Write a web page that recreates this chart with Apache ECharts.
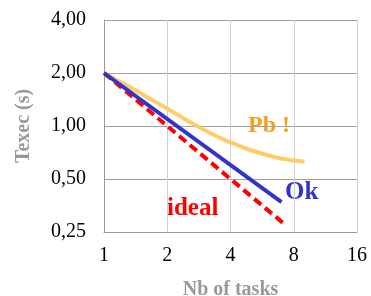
<!DOCTYPE html>
<html lang="en">
<head>
    <meta charset="UTF-8">
    <title>Texec</title>
    <script src="https://cdn.jsdelivr.net/npm/echarts@6/dist/echarts.min.js"></script>
    <style>
        html, body { margin: 0; padding: 0; background: #fff; }
        #main { width: 371px; height: 296px; }
    </style>
</head>
<body>
<div id="main"></div>
<script>
    // data
    var xTicks = [1, 2, 4, 8, 16];
    var yTicks = [0.25, 0.5, 1, 2, 4];
    var pbData = [[1, 2], [1.2, 1.775], [1.5, 1.53], [2, 1.255], [2.5, 1.07], [3, 0.95], [3.5, 0.865],
        [4, 0.806], [5, 0.728], [6, 0.682], [7, 0.653], [8, 0.636], [9, 0.626]];
    var okData = [[1, 2], [7, 0.37]];
    var idealData = [[1, 2], [7.2, 0.278]];

    var serif = '"Liberation Serif", "DejaVu Serif", serif';

    function fmtComma(v) {
        return v.toFixed(2).replace('.', ',');
    }

    var option = {
        animation: false,
        grid: {left: 104, top: 20, right: 14, bottom: 64, outerBoundsMode: 'none', containLabel: false},
        xAxis: {
            type: 'log',
            logBase: 2,
            min: xTicks[0],
            max: xTicks[xTicks.length - 1],
            name: 'Nb of tasks',
            nameLocation: 'middle',
            nameGap: 48,
            nameTextStyle: {color: '#999', fontFamily: serif, fontWeight: 'bold', fontSize: 20},
            axisLine: {lineStyle: {color: '#999', width: 1}},
            axisTick: {show: false},
            axisLabel: {color: '#000', fontFamily: serif, fontSize: 20, margin: 14},
            splitLine: {show: true, lineStyle: {color: '#d0d0d0', width: 1}}
        },
        yAxis: {
            type: 'log',
            logBase: 2,
            min: yTicks[0],
            max: yTicks[yTicks.length - 1],
            name: 'Texec (s)',
            nameLocation: 'middle',
            nameGap: 70,
            nameTextStyle: {color: '#999', fontFamily: serif, fontWeight: 'bold', fontSize: 20},
            axisLine: {show: true, lineStyle: {color: '#999', width: 1}},
            axisTick: {show: false},
            axisLabel: {
                color: '#000', fontFamily: serif, fontSize: 20, margin: 18,
                formatter: function (v) { return fmtComma(v); }
            },
            splitLine: {show: true, lineStyle: {color: '#a0a0a0', width: 1}}
        },
        series: [
            {
                name: 'Pb',
                type: 'line',
                symbol: 'none',
                data: pbData,
                lineStyle: {color: '#ffcc66', width: 4, join: 'round'}
            },
            {
                name: 'ideal',
                type: 'line',
                symbol: 'none',
                data: idealData,
                lineStyle: {color: '#ff0000', width: 4, type: [9, 5]}
            },
            {
                name: 'Ok',
                type: 'line',
                symbol: 'none',
                data: okData,
                lineStyle: {color: '#3333cc', width: 4}
            }
        ],
        graphic: [
            {type: 'text', left: 248, top: 114,
                style: {text: 'Pb !', fill: '#f7a11a', font: 'bold 24px ' + serif}},
            {type: 'text', left: 285, top: 180,
                style: {text: 'Ok', fill: '#3333cc', font: 'bold 25px ' + serif}},
            {type: 'text', left: 167, top: 196,
                style: {text: 'ideal', fill: '#ff0000', font: 'bold 25px ' + serif}}
        ]
    };

    var myChart = echarts.init(document.getElementById('main'));
    myChart.setOption(option);
</script>
</body>
</html>
